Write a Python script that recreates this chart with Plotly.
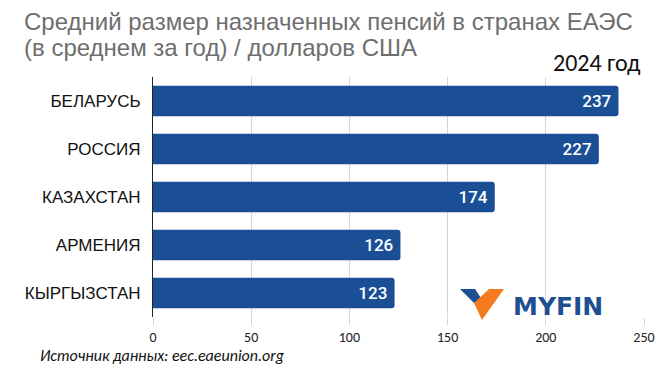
import plotly.graph_objects as go

countries = ["БЕЛАРУСЬ", "РОССИЯ", "КАЗАХСТАН", "АРМЕНИЯ", "КЫРГЫЗСТАН"]
pensions = [237, 227, 174, 126, 123]
x_ticks = [0, 50, 100, 150, 200, 250]

W, H = 670, 366
L, R, T, B = 153, 26, 77, 49
PW, PH = W - L - R, H - T - B


def px(x):
    return (x - L) / PW


def py(y):
    return (H - B - y) / PH


BLUE = "#1a4f96"

fig = go.Figure(go.Bar(
    y=countries,
    x=pensions,
    orientation="h",
    marker=dict(color=BLUE, cornerradius=3, line=dict(width=0)),
    width=0.635,
    text=[str(v) + " " for v in pensions],
    textposition="inside",
    insidetextanchor="end",
    textangle=0,
    textfont=dict(family="Roboto", size=17, color="white", weight=500),
    hoverinfo="skip",
))

fig.update_layout(
    width=W, height=H,
    margin=dict(l=L, r=R, t=T, b=B, pad=0),
    paper_bgcolor="white", plot_bgcolor="white",
    showlegend=False,
    bargap=0.365,
    xaxis=dict(
        range=[0, 250], tickvals=x_ticks, showgrid=True, gridcolor="#d4d4d4", gridwidth=1,
        zeroline=False, showline=False, ticks="outside", ticklen=7, tickcolor="#d4d4d4",
        tickfont=dict(family="Carlito, Liberation Sans", size=14, color="#222222"),
        fixedrange=True,
    ),
    yaxis=dict(
        autorange="reversed", showline=True, linecolor="#222222", linewidth=1,
        showgrid=False, ticks="", ticklabelstandoff=8, fixedrange=True,
        tickfont=dict(family="Liberation Sans, Arial", size=17, color="#111111"),
    ),
)

annotations = [
    dict(text="Средний размер назначенных пенсий в странах ЕАЭС", x=px(22), y=py(22),
         xanchor="left", yanchor="middle", font=dict(family="Liberation Sans, Arial", size=24, color="#6e6e6e")),
    dict(text="(в среднем за год) / долларов США", x=px(22), y=py(47),
         xanchor="left", yanchor="middle", font=dict(family="Liberation Sans, Arial", size=24, color="#6e6e6e")),
    dict(text="2024 год", x=px(643), y=py(62), xanchor="right", yanchor="middle",
         font=dict(family="Carlito, Open Sans", size=24, color="#111111")),
    dict(text="<i>Источник данных: eec.eaeunion.org</i>", x=px(38), y=py(355),
         xanchor="left", yanchor="middle",
         font=dict(family="Carlito, Open Sans", size=16, color="#111111")),
    dict(text="<b>MYFIN</b>", x=px(511), y=py(306), xanchor="left", yanchor="middle",
         font=dict(family="DejaVu Sans", size=25, color="#1d4f91")),
]
for a in annotations:
    a.update(xref="paper", yref="paper", showarrow=False)
fig.update_layout(annotations=annotations)


def poly(pts):
    return "M " + " L ".join(f"{px(x):.5f},{py(y):.5f}" for x, y in pts) + " Z"


fig.update_layout(shapes=[
    dict(type="path", xref="paper", yref="paper",
         path=poly([(460, 289), (475, 289), (481, 298), (474, 303)]),
         fillcolor="#1d4f91", line=dict(width=0)),
    dict(type="path", xref="paper", yref="paper",
         path=poly([(474, 303), (489, 289), (504, 289), (482, 320)]),
         fillcolor="#f47b20", line=dict(width=0)),
])

fig.write_html(
    "out.html",
    config={"displayModeBar": False},
    post_script="document.body.style.margin='0';document.body.style.overflow='hidden';",
)
